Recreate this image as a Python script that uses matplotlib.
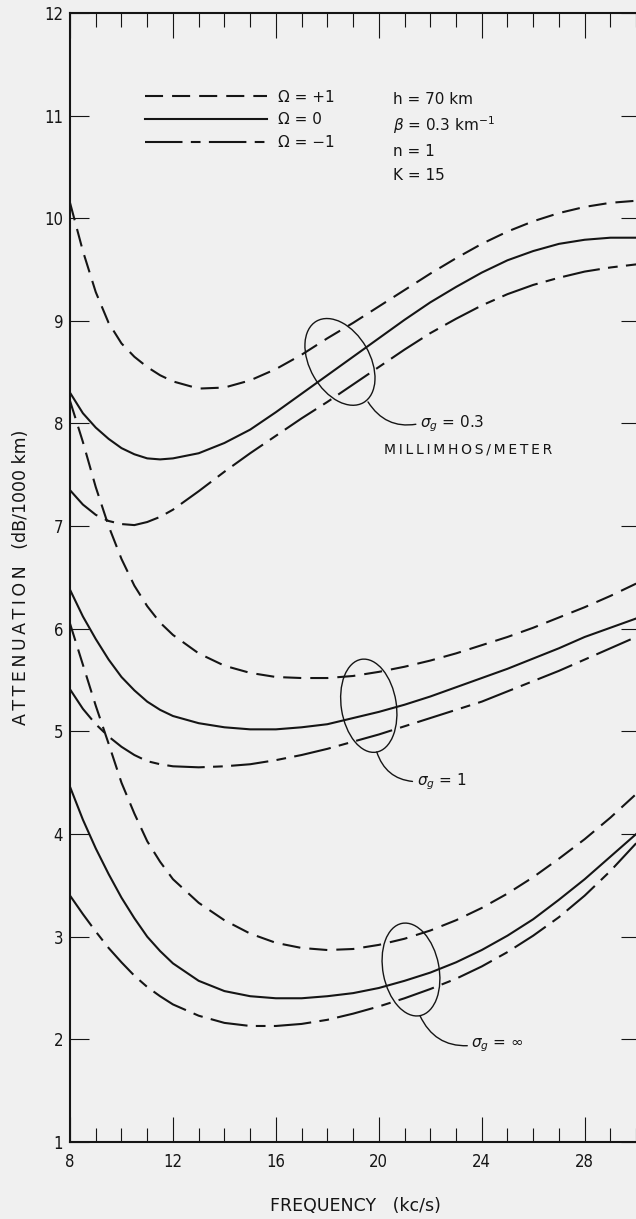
import matplotlib
matplotlib.use("Agg")
import matplotlib.pyplot as plt
from matplotlib.patches import Ellipse
from matplotlib.transforms import ScaledTranslation

# frequency (kc/s) at which the curves were read
freq = [8, 8.5, 9, 9.5, 10, 10.5, 11, 11.5, 12, 13, 14, 15, 16, 17, 18, 19,
        20, 21, 22, 23, 24, 25, 26, 27, 28, 29, 30]

# attenuation (dB/1000 km), sigma_g = 0.3 millimhos/meter
s03_plus = [10.15, 9.68, 9.28, 8.98, 8.78, 8.65, 8.55, 8.47, 8.41, 8.34, 8.35, 8.42,
            8.53, 8.67, 8.83, 8.98, 9.14, 9.30, 9.46, 9.61, 9.75, 9.87, 9.97, 10.05,
            10.11, 10.15, 10.17]
s03_zero = [8.30, 8.10, 7.96, 7.85, 7.76, 7.70, 7.66, 7.65, 7.66, 7.71, 7.81, 7.94,
            8.11, 8.29, 8.47, 8.65, 8.83, 9.01, 9.18, 9.33, 9.47, 9.59, 9.68, 9.75,
            9.79, 9.81, 9.81]
s03_minus = [7.35, 7.21, 7.11, 7.05, 7.02, 7.01, 7.04, 7.09, 7.16, 7.34, 7.53, 7.71,
             7.88, 8.05, 8.21, 8.38, 8.55, 8.72, 8.88, 9.02, 9.15, 9.26, 9.35, 9.42,
             9.48, 9.52, 9.55]

# sigma_g = 1
s1_plus = [8.22, 7.82, 7.38, 7.00, 6.68, 6.42, 6.22, 6.06, 5.94, 5.76, 5.64, 5.57,
           5.53, 5.52, 5.52, 5.54, 5.58, 5.63, 5.69, 5.76, 5.84, 5.92, 6.01, 6.11,
           6.21, 6.32, 6.44]
s1_zero = [6.38, 6.12, 5.90, 5.70, 5.53, 5.40, 5.29, 5.21, 5.15, 5.08, 5.04, 5.02,
           5.02, 5.04, 5.07, 5.13, 5.19, 5.26, 5.34, 5.43, 5.52, 5.61, 5.71, 5.81,
           5.92, 6.01, 6.10]
s1_minus = [5.41, 5.22, 5.07, 4.95, 4.85, 4.77, 4.71, 4.68, 4.66, 4.65, 4.66, 4.68,
            4.72, 4.77, 4.83, 4.90, 4.97, 5.05, 5.13, 5.21, 5.29, 5.39, 5.49, 5.59,
            5.70, 5.81, 5.92]

# sigma_g = infinity
sinf_plus = [6.05, 5.65, 5.25, 4.88, 4.50, 4.20, 3.93, 3.73, 3.56, 3.33, 3.16, 3.03,
             2.94, 2.89, 2.87, 2.88, 2.92, 2.98, 3.06, 3.16, 3.28, 3.42, 3.58, 3.76,
             3.95, 4.16, 4.39]
sinf_zero = [4.46, 4.14, 3.86, 3.61, 3.38, 3.18, 3.00, 2.86, 2.74, 2.57, 2.47, 2.42,
             2.40, 2.40, 2.42, 2.45, 2.50, 2.57, 2.65, 2.75, 2.87, 3.01, 3.17, 3.36,
             3.56, 3.78, 4.00]
sinf_minus = [3.40, 3.22, 3.05, 2.89, 2.75, 2.62, 2.51, 2.42, 2.34, 2.23, 2.16, 2.13,
              2.13, 2.15, 2.19, 2.25, 2.32, 2.40, 2.49, 2.59, 2.71, 2.85, 3.01, 3.19,
              3.40, 3.64, 3.91]

omega_labels = ['\u03a9 = +1', '\u03a9 = 0', '\u03a9 = \u22121']
params = ['h = 70 km', r'$\beta$ = 0.3 km$^{-1}$', 'n = 1', 'K = 15']

bg = '#f0f0f0'
ink = '#151515'
plt.rcParams['lines.scale_dashes'] = False
plt.rcParams['font.family'] = ['DejaVu Sans']
plt.rcParams['mathtext.fontset'] = 'dejavusans'

dash_plus = (0, (13, 6.5))
dash_minus = (0, (27, 6, 7, 6))


def spaced(word, sep='\u2009'):
    # letter-spaced lettering like the drafted original
    return sep.join(word)


fig = plt.figure(figsize=(6.36, 12.19), dpi=100, facecolor=bg)
ax = fig.add_axes([0.1101, 0.0632, 0.8962, 0.9262], facecolor=bg)

groups = [(s03_plus, s03_zero, s03_minus),
          (s1_plus, s1_zero, s1_minus),
          (sinf_plus, sinf_zero, sinf_minus)]
for i, (yp, y0, ym) in enumerate(groups):
    lab = omega_labels if i == 0 else [None, None, None]
    ax.plot(freq, yp, color=ink, lw=1.5, linestyle=dash_plus, label=lab[0])
    ax.plot(freq, y0, color=ink, lw=1.5, linestyle='-', label=lab[1])
    ax.plot(freq, ym, color=ink, lw=1.5, linestyle=dash_minus, label=lab[2])

ax.set_xlim(8, 30.15)
ax.set_ylim(1, 12)
ax.set_xticks([8, 12, 16, 20, 24, 28])
ax.set_xticks(range(9, 31), minor=True)
ax.set_yticks(range(1, 13))
ax.tick_params(axis='x', which='major', direction='in', length=18, width=0.8,
               top=True, pad=8, colors=ink)
ax.tick_params(axis='x', which='minor', direction='in', length=10, width=0.8,
               top=True, colors=ink)
ax.tick_params(axis='y', which='major', direction='in', length=14, width=0.8,
               right=True, pad=5, colors=ink)
for lbl in ax.get_xticklabels() + ax.get_yticklabels():
    lbl.set_fontsize(12)
    lbl.set_stretch('condensed')
for s in ax.spines.values():
    s.set_linewidth(1.5)
    s.set_color(ink)

ax.set_xlabel('FREQUENCY   (kc/s)', fontsize=12.5, labelpad=19, color=ink)
ax.set_ylabel(spaced('ATTENUATION') + '   (dB/1000 km)', fontsize=12.5,
              labelpad=10, color=ink)

leg = ax.legend(loc='upper left', bbox_to_anchor=(0.1316, 0.932), frameon=False,
                borderpad=0, borderaxespad=0, handlelength=8.0, handletextpad=0.7,
                labelspacing=0.5, fontsize=11)
for t in leg.get_texts():
    t.set_color(ink)

for txt, yf in zip(params, [0.923, 0.901, 0.877, 0.8556]):
    ax.text(0.5667, yf, txt, transform=ax.transAxes, fontsize=11, va='center',
            ha='left', color=ink)


def ring(xc, yc, w, h, ang):
    tr = fig.dpi_scale_trans + ScaledTranslation(xc, yc, ax.transData)
    ax.add_patch(Ellipse((0, 0), w, h, angle=ang, transform=tr, fill=False,
                         lw=1.0, edgecolor=ink))


ring(18.49, 8.60, 0.94, 0.60, -60)
ring(19.61, 5.25, 0.94, 0.55, -81)
ring(21.25, 2.68, 0.94, 0.56, -79)

lead = dict(arrowstyle='-', lw=1.0, color=ink, relpos=(0, 0.5),
            connectionstyle='arc3,rad=-0.35', shrinkA=1, shrinkB=0)
ax.annotate(r'$\sigma_g$ = 0.3', xy=(19.58, 8.21), xytext=(21.6, 8.0),
            fontsize=11, va='center', ha='left', color=ink, arrowprops=lead)
ax.text(23.47, 7.75, spaced('MILLIMHOS/METER'),
        fontsize=10, ha='center', va='center', color=ink)
ax.annotate(r'$\sigma_g$ = 1', xy=(19.92, 4.80), xytext=(21.47, 4.51),
            fontsize=11, va='center', ha='left', color=ink, arrowprops=lead)
ax.annotate(r'$\sigma_g$ = $\infty$', xy=(21.6, 2.23), xytext=(23.6, 1.94),
            fontsize=11, va='center', ha='left', color=ink, arrowprops=lead)

fig.savefig('out.png', dpi=100, facecolor=bg)
